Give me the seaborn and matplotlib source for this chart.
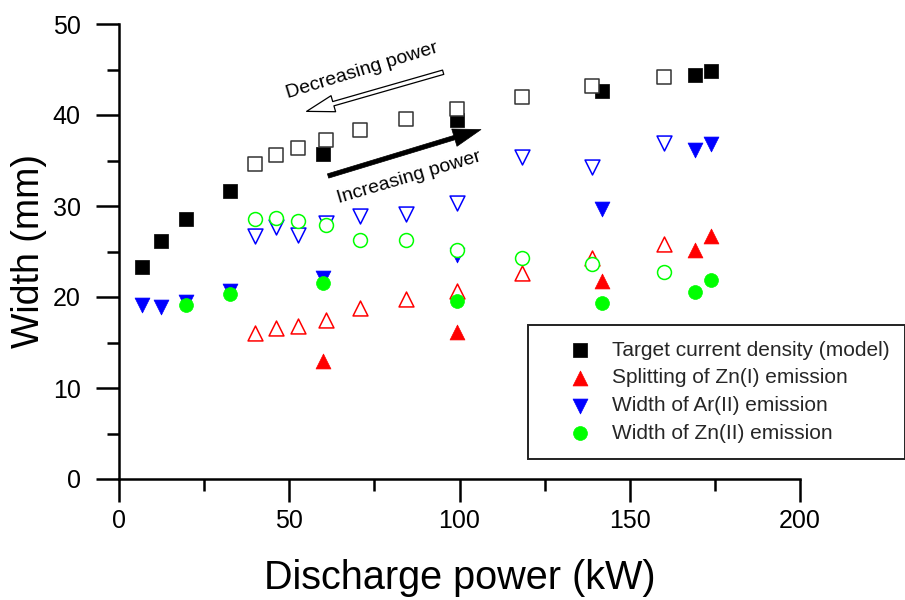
import matplotlib
matplotlib.use("Agg")
import matplotlib.pyplot as plt
import seaborn as sns
import pandas as pd

# ---- data ----
power_inc = [6.8, 12.4, 19.6, 32.6, 60.0, 99.4, 141.9, 169.2, 173.9]
power_dec = [39.9, 46.0, 52.5, 60.9, 70.9, 84.2, 99.4, 118.4, 139.0, 160.2]

target_inc = [23.3, 26.2, 28.6, 31.6, 35.7, 39.5, 42.6, 44.4, 44.8]
target_dec = [34.6, 35.6, 36.4, 37.3, 38.4, 39.6, 40.7, 42.0, 43.2, 44.2]

split_power_inc = [60.0, 99.4, 141.9, 169.2, 173.9]
split_inc = [13.0, 16.1, 21.8, 25.2, 26.7]
split_dec = [16.0, 16.6, 16.8, 17.5, 18.8, 19.8, 20.7, 22.6, 24.3, 25.8]

ar_inc = [19.1, 18.9, 19.4, 20.7, 22.1, 24.6, 29.7, 36.1, 36.8]
ar_dec = [26.7, 27.7, 26.8, 28.1, 28.9, 29.1, 30.3, 35.4, 34.3, 36.9]

zn_power_inc = [19.6, 32.6, 60.0, 99.4, 141.9, 169.2, 173.9]
zn_inc = [19.1, 20.3, 21.5, 19.6, 19.3, 20.5, 21.9]
zn_dec = [28.6, 28.7, 28.4, 27.9, 26.3, 26.3, 25.2, 24.3, 23.6, 22.7]

labels = ["Target current density (model)", "Splitting of Zn(I) emission",
          "Width of Ar(II) emission", "Width of Zn(II) emission"]
x_ticks = [0, 50, 100, 150, 200]
y_ticks = [0, 10, 20, 30, 40, 50]

# ---- style ----
sns.set_theme(style="ticks")
plt.rcParams["font.family"] = ["Liberation Sans", "DejaVu Sans"]

W, H = 905, 600
fig = plt.figure(figsize=(W / 100, H / 100), dpi=100)
ax = fig.add_axes([119 / W, 1 - 479 / H, (800 - 119) / W, (479 - 24) / H])

series = [
    (labels[0], "s", "black", 90, power_inc, target_inc, power_dec, target_dec),
    (labels[1], "^", "#ff0000", 115, split_power_inc, split_inc, power_dec, split_dec),
    (labels[2], "v", "#0000ff", 115, power_inc, ar_inc, power_dec, ar_dec),
    (labels[3], "o", "#00ff00", 100, zn_power_inc, zn_inc, power_dec, zn_dec),
]

z = 3
for lab, mk, col, size, xf, yf, xo, yo in series:
    sns.scatterplot(x=xf, y=yf, ax=ax, marker=mk, s=size, color=col,
                    edgecolor=col, linewidth=0.5, label=lab, zorder=z)
    z += 1
    sns.scatterplot(x=xo, y=yo, ax=ax, marker=mk, s=size, facecolor="white",
                    edgecolor=("#333333" if col == "black" else col),
                    linewidth=1.1, zorder=z)
    z += 1

# ---- axes ----
ax.set_xlim(0, 200)
ax.set_ylim(0, 50)
ax.set_xticks(x_ticks)
ax.set_yticks(y_ticks)
ax.set_xticks([25, 75, 125, 175], minor=True)
ax.set_yticks([5, 15, 25, 35, 45], minor=True)
for s in ["top", "right"]:
    ax.spines[s].set_visible(False)
for s in ["left", "bottom"]:
    ax.spines[s].set_linewidth(1.8)
    ax.spines[s].set_color("black")
ax.tick_params(which="major", length=16.5, width=1.8, color="black",
               labelsize=18, labelcolor="black")
ax.tick_params(which="minor", length=8.6, width=1.8, color="black")
ax.tick_params(axis="x", which="major", pad=5)
ax.tick_params(axis="y", which="major", pad=11)
ax.set_xlabel("Discharge power (kW)", fontsize=28.5, labelpad=18.5, color="black")
ax.set_ylabel("Width (mm)", fontsize=27, labelpad=4, color="black")
ax.grid(False)

# ---- annotations ----
ax.annotate("", xy=(55.1, 40.4), xytext=(95.2, 44.7),
            arrowprops=dict(arrowstyle="simple,head_length=1.0,head_width=0.6,tail_width=0.16",
                            fc="white", ec="black", lw=0.9, mutation_scale=20,
                            shrinkA=0, shrinkB=0), zorder=20)
ax.annotate("", xy=(106.3, 38.4), xytext=(61.4, 33.3),
            arrowprops=dict(arrowstyle="simple,head_length=1.0,head_width=0.65,tail_width=0.16",
                            fc="black", ec="black", lw=0.5, mutation_scale=20,
                            shrinkA=0, shrinkB=0), zorder=20)
ax.text(71.4, 44.9, "Decreasing power", fontsize=14, rotation=17,
        rotation_mode="anchor", ha="center", va="center", color="black")
ax.text(85.2, 33.1, "Increasing power", fontsize=14, rotation=16.5,
        rotation_mode="anchor", ha="center", va="center", color="black")

# ---- legend ----
leg = ax.legend(loc="upper left", bbox_to_anchor=(528 / W, 1 - 325 / H),
                bbox_transform=fig.transFigure, borderaxespad=0,
                fontsize=15, frameon=True, fancybox=False, framealpha=1,
                edgecolor="#222222", borderpad=0.75, labelspacing=0.42,
                handlelength=3.5, handletextpad=-0.21)
leg.get_frame().set_linewidth(1.4)

fig.savefig("out.png", dpi=100)
